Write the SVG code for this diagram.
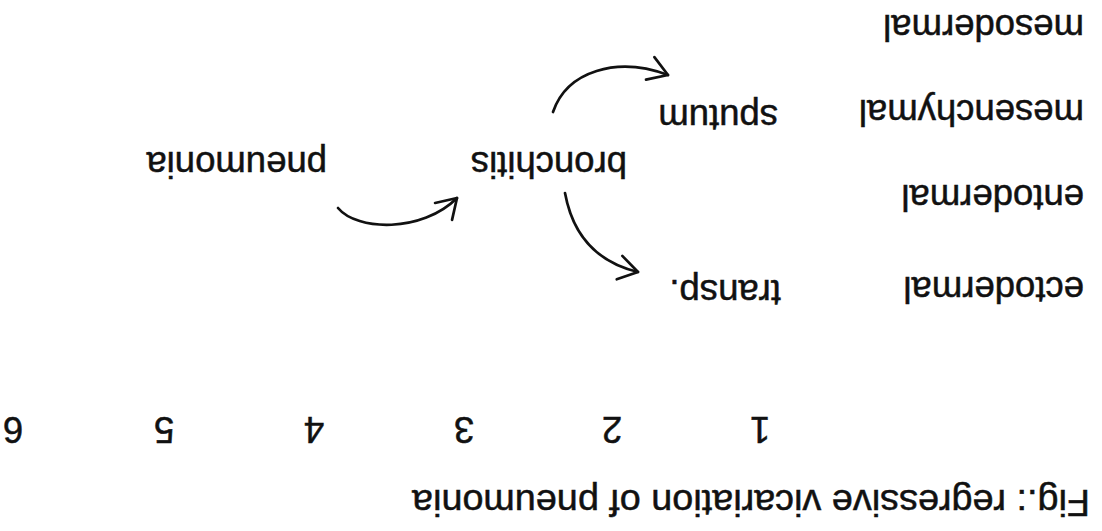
<svg xmlns="http://www.w3.org/2000/svg" width="1102" height="531" viewBox="0 0 1102 531">
<style>
  .t { font-family: "Liberation Sans", Arial, sans-serif; font-size: 36.5px; fill: #111; stroke: #111; stroke-width: 0.5; }
  .c { fill: none; stroke: #111; stroke-width: 2.7; stroke-linecap: round; }
</style>
<defs>
  <marker id="ah" markerUnits="userSpaceOnUse" markerWidth="30" markerHeight="30" viewBox="-25 -15 30 30" refX="0" refY="0" orient="auto">
    <path d="M-19,-12 L0,0 L-19,12" fill="none" stroke="#111" stroke-width="2.7" stroke-linecap="round" stroke-linejoin="round"/>
  </marker>
</defs>
<rect width="1102" height="531" fill="#fff"/>
<g transform="rotate(180 551 265.5)">
  <g id="title"><text class="t" x="12" y="41" font-size="37" textLength="678" lengthAdjust="spacingAndGlyphs">Fig.: regressive vicariation of pneumonia</text></g>
  <g id="scale">
    <text class="t" x="342" y="114" text-anchor="middle">1</text>
    <text class="t" x="490" y="114" text-anchor="middle">2</text>
    <text class="t" x="638" y="114" text-anchor="middle">3</text>
    <text class="t" x="788" y="114" text-anchor="middle">4</text>
    <text class="t" x="938" y="114" text-anchor="middle">5</text>
    <text class="t" x="1089" y="114" text-anchor="middle">6</text>
  </g>
  <g id="ectodermal"><text class="t" x="18" y="254">ectodermal</text></g>
  <g id="entodermal"><text class="t" x="18" y="346">entodermal</text></g>
  <g id="mesenchymal"><text class="t" x="18" y="431">mesenchymal</text></g>
  <g id="mesodermal"><text class="t" x="18" y="516">mesodermal</text></g>
  <g id="transp"><text class="t" x="321" y="251">transp.</text></g>
  <g id="sputum"><text class="t" x="324" y="426">sputum</text></g>
  <g id="bronchitis"><text class="t" x="475" y="379">bronchitis</text></g>
  <g id="pneumonia"><text class="t" x="775" y="379">pneumonia</text></g>
  <g id="connectors">
    <path class="c" d="M764,323 C745,300 680,298 645,333" marker-end="url(#ah)"/>
    <path class="c" d="M549,419 C535,460 485,475 434,456" marker-end="url(#ah)"/>
    <path class="c" d="M537,338 C530,300 510,270 464,259" marker-end="url(#ah)"/>
  </g>
</g>
</svg>
